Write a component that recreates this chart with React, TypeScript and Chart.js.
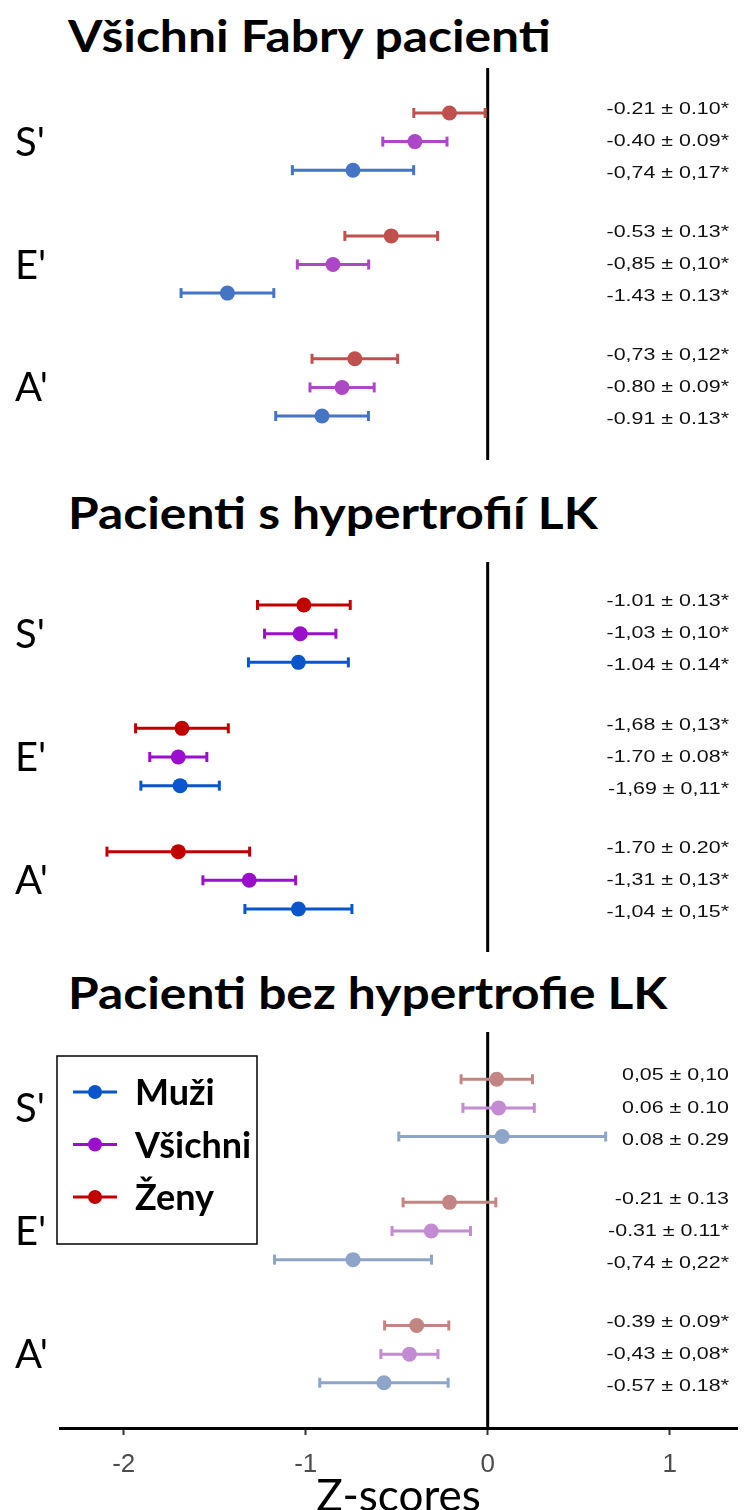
import React, { useEffect, useRef } from "react";
import { Chart, registerables } from "chart.js";

Chart.register(...registerables);

// Row groups (tissue Doppler velocities), top to bottom
const groupLabels = ["S'", "E'", "A'"];
// Series order inside every group, top to bottom
const seriesNames = ["Ženy", "Všichni", "Muži"];
// Legend entries, top to bottom
const legendNames = ["Muži", "Všichni", "Ženy"];
const legendColors = ["#0b55cc", "#9b0fcc", "#c00000"];

const panelTitles = [
  "Všichni Fabry pacienti",
  "Pacienti s hypertrofií LK",
  "Pacienti bez hypertrofie LK",
];

// Mean Z-score and standard error, per group S', E', A'
const allZenyMean = [-0.21, -0.53, -0.73];
const allZenySE = [0.1, 0.13, 0.12];
const allVsichniMean = [-0.4, -0.85, -0.8];
const allVsichniSE = [0.09, 0.1, 0.09];
const allMuziMean = [-0.74, -1.43, -0.91];
const allMuziSE = [0.17, 0.13, 0.13];

const lvhZenyMean = [-1.01, -1.68, -1.7];
const lvhZenySE = [0.13, 0.13, 0.2];
const lvhVsichniMean = [-1.03, -1.7, -1.31];
const lvhVsichniSE = [0.1, 0.08, 0.13];
const lvhMuziMean = [-1.04, -1.69, -1.04];
const lvhMuziSE = [0.14, 0.11, 0.15];

const noLvhZenyMean = [0.05, -0.21, -0.39];
const noLvhZenySE = [0.1, 0.13, 0.09];
const noLvhVsichniMean = [0.06, -0.31, -0.43];
const noLvhVsichniSE = [0.1, 0.11, 0.08];
const noLvhMuziMean = [0.08, -0.74, -0.57];
const noLvhMuziSE = [0.29, 0.22, 0.18];

// Printed values, row by row: S' (Ženy, Všichni, Muži), E' ..., A' ...
const allValueText = [
  "-0.21 ± 0.10*", "-0.40 ± 0.09*", "-0,74 ± 0,17*",
  "-0.53 ± 0.13*", "-0,85 ± 0,10*", "-1.43 ± 0.13*",
  "-0,73 ± 0,12*", "-0.80 ± 0.09*", "-0.91 ± 0.13*",
];
const lvhValueText = [
  "-1.01 ± 0.13*", "-1,03 ± 0,10*", "-1.04 ± 0.14*",
  "-1,68 ± 0,13*", "-1.70 ± 0.08*", "-1,69 ± 0,11*",
  "-1.70 ± 0.20*", "-1,31 ± 0,13*", "-1,04 ± 0,15*",
];
const noLvhValueText = [
  "0,05 ± 0,10", "0.06 ± 0.10", "0.08 ± 0.29",
  "-0.21 ± 0.13", "-0.31 ± 0.11*", "-0,74 ± 0,22*",
  "-0.39 ± 0.09*", "-0,43 ± 0,08*", "-0.57 ± 0.18*",
];

// Series colours (Ženy, Všichni, Muži) per panel
const allColors = ["#c0504d", "#ac48c8", "#4674c4"];
const lvhColors = ["#c00000", "#9b0fcc", "#0b55cc"];
const noLvhColors = ["#c38583", "#c38bd2", "#8ea5c9"];

const xTickValues = [-2, -1, 0, 1];
const X_MIN = -2.35;
const X_MAX = 1.37;
const CI_Z = 1.96; // whiskers show the 95 % interval

const GROUP_STEP = 4.3;
const LABEL_SPREAD = 1.12;
const rowY = (g: number, s: number) => g * GROUP_STEP + s;

type PanelDef = {
  title: string;
  means: number[][];
  ses: number[][];
  colors: string[];
  texts: string[];
  yMin: number;
  yMax: number;
  top: number;
  height: number;
  titleTop: number;
  axis: boolean;
  legend: boolean;
};

const panels: PanelDef[] = [
  {
    title: panelTitles[0],
    means: [allZenyMean, allVsichniMean, allMuziMean],
    ses: [allZenySE, allVsichniSE, allMuziSE],
    colors: allColors,
    texts: allValueText,
    yMin: -1.575,
    yMax: 12.14,
    top: 68,
    height: 392,
    titleTop: 13,
    axis: false,
    legend: false,
  },
  {
    title: panelTitles[1],
    means: [lvhZenyMean, lvhVsichniMean, lvhMuziMean],
    ses: [lvhZenySE, lvhVsichniSE, lvhMuziSE],
    colors: lvhColors,
    texts: lvhValueText,
    yMin: -1.5,
    yMax: 12.1,
    top: 562,
    height: 390,
    titleTop: 490,
    axis: false,
    legend: false,
  },
  {
    title: panelTitles[2],
    means: [noLvhZenyMean, noLvhVsichniMean, noLvhMuziMean],
    ses: [noLvhZenySE, noLvhVsichniSE, noLvhMuziSE],
    colors: noLvhColors,
    texts: noLvhValueText,
    yMin: -1.65,
    yMax: 12.18,
    top: 1032,
    height: 478,
    titleTop: 970,
    axis: true,
    legend: true,
  },
];

function buildDatasets(p: PanelDef) {
  const sets: any[] = [];
  p.means.forEach((m, s) => {
    sets.push({
      label: seriesNames[s],
      data: m.map((v, g) => ({ x: v, y: rowY(g, s) })),
      pointRadius: 7.5,
      pointHoverRadius: 7.5,
      pointBackgroundColor: p.colors[s],
      pointBorderWidth: 0,
      showLine: false,
      order: 0,
    });
    const whiskers: { x: number; y: number }[] = [];
    m.forEach((v, g) => {
      const half = CI_Z * p.ses[s][g];
      whiskers.push({ x: v - half, y: rowY(g, s) });
      whiskers.push({ x: v + half, y: rowY(g, s) });
      whiskers.push({ x: NaN, y: NaN });
    });
    sets.push({
      label: seriesNames[s] + " CI",
      data: whiskers,
      showLine: true,
      spanGaps: false,
      borderColor: p.colors[s],
      borderWidth: 3,
      pointStyle: "line",
      rotation: 90,
      pointRadius: 5,
      pointHoverRadius: 5,
      pointBorderColor: p.colors[s],
      pointBorderWidth: 3,
      order: 1,
    });
  });
  return sets;
}

function decorPlugin(p: PanelDef) {
  return {
    id: "panelDecor",
    beforeDatasetsDraw(chart: any) {
      const { ctx, chartArea, scales } = chart;
      const x0 = scales.x.getPixelForValue(0);
      ctx.save();
      ctx.strokeStyle = "#000";
      ctx.lineWidth = 3;
      ctx.beginPath();
      ctx.moveTo(x0, chartArea.top);
      ctx.lineTo(x0, chartArea.bottom);
      ctx.stroke();
      ctx.restore();
    },
    afterDatasetsDraw(chart: any) {
      const { ctx, chartArea, scales } = chart;
      const y = scales.y;
      ctx.save();
      // group names on the left
      ctx.fillStyle = "#000";
      ctx.font = "40px Lato";
      ctx.textAlign = "left";
      ctx.textBaseline = "alphabetic";
      groupLabels.forEach((t, g) => {
        ctx.fillText(t, 15, y.getPixelForValue(rowY(g, 1)) + 14);
      });
      // printed mean ± SE on the right
      ctx.font = '17px "Liberation Sans"';
      ctx.textAlign = "right";
      ctx.textBaseline = "middle";
      ctx.fillStyle = "#111";
      groupLabels.forEach((_, g) => {
        seriesNames.forEach((__, s) => {
          const yy = y.getPixelForValue(g * GROUP_STEP + 1 + (s - 1) * LABEL_SPREAD);
          ctx.save();
          ctx.translate(chartArea.right - 8, yy);
          ctx.scale(1.26, 1);
          ctx.fillText(p.texts[g * 3 + s], 0, 0);
          ctx.restore();
        });
      });
      if (p.legend) {
        const bx = 57;
        const by = 24;
        ctx.strokeStyle = "#000";
        ctx.lineWidth = 1.5;
        ctx.strokeRect(bx, by, 200, 188);
        legendNames.forEach((name, i) => {
          const ly = by + 36 + i * 52.5;
          ctx.strokeStyle = legendColors[i];
          ctx.lineWidth = 3;
          ctx.beginPath();
          ctx.moveTo(bx + 16, ly);
          ctx.lineTo(bx + 60, ly);
          ctx.stroke();
          ctx.fillStyle = legendColors[i];
          ctx.beginPath();
          ctx.arc(bx + 38, ly, 7, 0, Math.PI * 2);
          ctx.fill();
          ctx.fillStyle = "#000";
          ctx.font = "bold 36px Lato";
          ctx.textAlign = "left";
          ctx.textBaseline = "alphabetic";
          ctx.fillText(name, bx + 78, ly + 13);
        });
      }
      ctx.restore();
    },
  };
}

function Panel({ p }: { p: PanelDef }) {
  const ref = useRef<HTMLCanvasElement>(null);
  useEffect(() => {
    if (!ref.current) return;
    const chart = new Chart(ref.current, {
      type: "scatter",
      data: { datasets: buildDatasets(p) },
      options: {
        responsive: false,
        animation: false,
        devicePixelRatio: 1,
        layout: { autoPadding: false, padding: { left: 60, right: 10, top: 0, bottom: 0 } },
        plugins: {
          legend: { display: false },
          tooltip: { enabled: false },
        },
        scales: {
          x: {
            type: "linear",
            min: X_MIN,
            max: X_MAX,
            display: p.axis,
            afterBuildTicks: (scale: any) => {
              scale.ticks = xTickValues.map((v) => ({ value: v }));
            },
            afterFit: (scale: any) => {
              if (p.axis) scale.height = 82;
            },
            grid: {
              display: true,
              drawOnChartArea: false,
              drawTicks: true,
              tickLength: 7,
              tickColor: "#333",
              tickWidth: 2,
            },
            border: { display: true, color: "#000", width: 3 },
            ticks: {
              color: "#4d4d4d",
              padding: 14,
              font: { family: "Liberation Sans", size: 26 },
              callback: (v: any) => String(v),
            },
            title: {
              display: true,
              text: "Z-scores",
              color: "#000",
              font: { family: "Lato", size: 44 },
              padding: { top: 0, bottom: -13 },
            },
          },
          y: {
            type: "linear",
            min: p.yMin,
            max: p.yMax,
            reverse: true,
            display: false,
          },
        },
      },
      plugins: [decorPlugin(p)],
    } as any);
    return () => chart.destroy();
  }, [p]);
  return (
    <>
      <div
        style={{
          position: "absolute",
          left: 68,
          top: p.titleTop,
          font: "bold 44px Lato",
          lineHeight: "1",
          whiteSpace: "nowrap",
          color: "#000",
          transform: "scaleX(1.13)",
          transformOrigin: "0 0",
        }}
      >
        {p.title}
      </div>
      <div style={{ position: "absolute", left: 0, top: p.top, width: 747, height: p.height }}>
        <canvas ref={ref} width={747} height={p.height} style={{ display: "block" }} />
      </div>
    </>
  );
}

export default function App() {
  return (
    <div style={{ position: "absolute", left: 0, top: 0, width: 747, height: 1510, background: "#fff", overflow: "hidden" }}>
      {panels.map((p) => (
        <Panel key={p.title} p={p} />
      ))}
    </div>
  );
}
